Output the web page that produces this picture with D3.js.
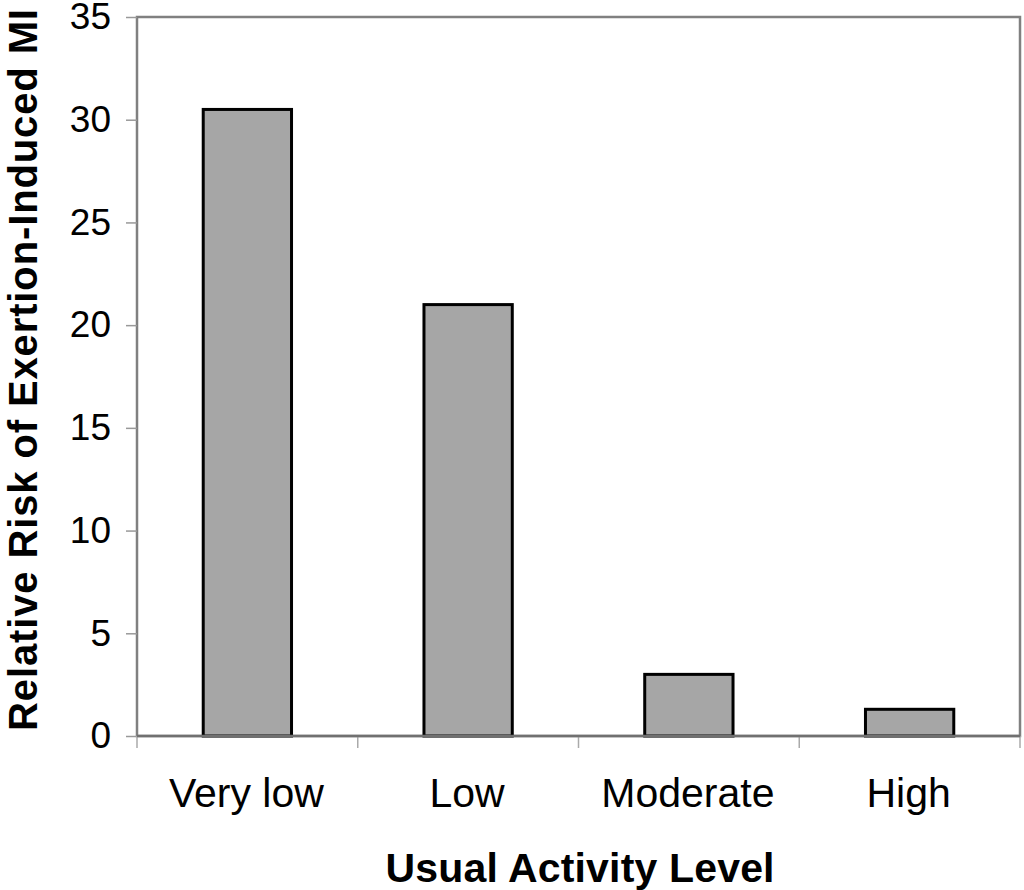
<!DOCTYPE html>
<html>
<head>
<meta charset="utf-8">
<script src="https://cdn.jsdelivr.net/npm/d3@7"></script>
<style>
  html, body { margin: 0; padding: 0; background: #fff; }
  svg { display: block; }
  text { font-family: "Liberation Sans", Arial, Helvetica, sans-serif; fill: #000; }
</style>
</head>
<body>
<svg id="chart" width="1024" height="890"></svg>
<script>
const categories = ["Very low", "Low", "Moderate", "High"];
const values = [30.5, 21.0, 3.0, 1.3];
const yTicks = [0, 5, 10, 15, 20, 25, 30, 35];
const xTitle = "Usual Activity Level";
const yTitle = "Relative Risk of Exertion-Induced MI";

const W = 1024, H = 890;
const margin = { top: 17, right: 4, bottom: 154, left: 137 };
const svg = d3.select("#chart");

const x = d3.scaleBand().domain(categories)
  .range([margin.left, W - margin.right])
  .paddingInner(0.6).paddingOuter(0.3);
const xStep = d3.scaleBand().domain(categories)
  .range([margin.left, W - margin.right]).padding(0);
const y = d3.scaleLinear().domain([0, 35]).range([H - margin.bottom, margin.top]);

// plot frame
svg.append("rect")
  .attr("x", margin.left).attr("y", margin.top)
  .attr("width", W - margin.right - margin.left)
  .attr("height", H - margin.bottom - margin.top)
  .attr("fill", "none").attr("stroke", "#808080").attr("stroke-width", 2.5);

// y axis
const yAxis = svg.append("g")
  .attr("transform", `translate(${margin.left},0)`)
  .call(d3.axisLeft(y).tickValues(yTicks).tickSize(11).tickPadding(15).tickFormat(d3.format("d")));
yAxis.select(".domain").remove();
yAxis.selectAll(".tick line").attr("stroke", "#999").attr("stroke-width", 1.5);
yAxis.selectAll(".tick text")
  .attr("font-size", 37).attr("fill", "#000")
  .attr("font-family", "'Liberation Sans', Arial, sans-serif");

// x category boundary ticks
const bounds = categories.map(c => xStep(c)).concat([xStep(categories[categories.length - 1]) + xStep.bandwidth()]);
svg.append("g").selectAll("line").data(bounds).join("line")
  .attr("x1", d => d).attr("x2", d => d)
  .attr("y1", y(0)).attr("y2", y(0) + 12)
  .attr("stroke", "#aaa").attr("stroke-width", 1.5);

// bars
svg.append("g").selectAll("rect").data(values).join("rect")
  .attr("x", (d, i) => x(categories[i]))
  .attr("y", d => y(d))
  .attr("width", x.bandwidth())
  .attr("height", d => y(0) - y(d))
  .attr("fill", "#a6a6a6").attr("stroke", "#000").attr("stroke-width", 3);

// zero line
svg.append("line")
  .attr("x1", margin.left).attr("x2", W - margin.right)
  .attr("y1", y(0)).attr("y2", y(0))
  .attr("stroke", "#707070").attr("stroke-width", 2.5);

// category labels
svg.append("g").selectAll("text").data(categories).join("text")
  .attr("x", d => xStep(d) + xStep.bandwidth() / 2 - 1)
  .attr("y", 807)
  .attr("text-anchor", "middle")
  .attr("font-size", 41)
  .text(d => d);

// axis titles
svg.append("text")
  .attr("x", 580)
  .attr("y", 882)
  .attr("text-anchor", "middle")
  .attr("font-size", 41).attr("font-weight", "bold")
  .attr("textLength", 389).attr("lengthAdjust", "spacing")
  .text(xTitle);

svg.append("text")
  .attr("transform", `translate(37,${370}) rotate(-90)`)
  .attr("text-anchor", "middle")
  .attr("font-size", 40).attr("font-weight", "bold")
  .attr("textLength", 722).attr("lengthAdjust", "spacing")
  .text(yTitle);
</script>
</body>
</html>
